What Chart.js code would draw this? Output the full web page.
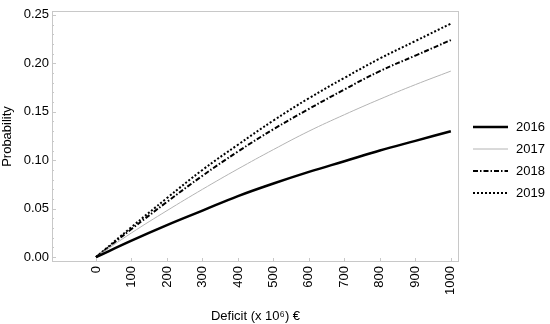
<!DOCTYPE html>
<html>
<head>
<meta charset="utf-8">
<script src="https://cdn.jsdelivr.net/npm/chart.js@4"></script>
<style>
  html, body { margin: 0; padding: 0; background: #fff; }
  #wrap { width: 550px; height: 324px; }
</style>
</head>
<body>
<div id="wrap"><canvas id="chart"></canvas></div>
<script>
var deficit = [0, 100, 200, 300, 400, 500, 600, 700, 800, 900, 1000];
var p2016 = [0, 0.017, 0.033, 0.048, 0.063, 0.076, 0.088, 0.099, 0.110, 0.120, 0.130];
var p2017 = [0, 0.025, 0.048, 0.070, 0.091, 0.111, 0.130, 0.147, 0.163, 0.178, 0.192];
var p2018 = [0, 0.029, 0.057, 0.084, 0.109, 0.132, 0.153, 0.173, 0.192, 0.208, 0.224];
var p2019 = [0, 0.031, 0.061, 0.090, 0.116, 0.141, 0.164, 0.185, 0.205, 0.223, 0.241];
var years = ["2016", "2017", "2018", "2019"];
var xTicks = [0, 100, 200, 300, 400, 500, 600, 700, 800, 900, 1000];
var yTicks = [0, 0.05, 0.10, 0.15, 0.20, 0.25];

var font = "'Liberation Sans', Arial, sans-serif";

function pts(ys) {
  return deficit.map(function (x, i) { return { x: x, y: ys[i] }; });
}

var styles = [
  { color: "#000000", width: 2.5, dash: [] },
  { color: "#b4b4b4", width: 1, dash: [] },
  { color: "#000000", width: 2, dash: [5, 2, 1.5, 2] },
  { color: "#000000", width: 2, dash: [2, 2] }
];
var series = [p2016, p2017, p2018, p2019];

var frameAndTicks = {
  id: "frameAndTicks",
  afterDatasetsDraw: function (chart) {
    var ctx = chart.ctx, a = chart.chartArea;
    var xs = chart.scales.x, ys = chart.scales.y;
    ctx.save();
    ctx.strokeStyle = "#c8c8c8";
    ctx.lineWidth = 1;
    ctx.strokeRect(a.left + 0.5, a.top + 0.5, a.right - a.left - 1, a.bottom - a.top - 1);
    ctx.beginPath();
    for (var v = 0; v <= 0.2501; v += 0.01) {
      var py = Math.round(ys.getPixelForValue(v)) + 0.5;
      var major = Math.abs(v / 0.05 - Math.round(v / 0.05)) < 1e-6;
      ctx.moveTo(a.left, py);
      ctx.lineTo(a.left + (major ? 4 : 2), py);
    }
    xTicks.forEach(function (t) {
      var px = Math.round(xs.getPixelForValue(t)) + 0.5;
      ctx.moveTo(px, a.bottom);
      ctx.lineTo(px, a.bottom - 4);
    });
    ctx.stroke();

    // legend
    ctx.font = "13px " + font;
    ctx.fillStyle = "#000";
    ctx.textBaseline = "middle";
    var ly = [127, 149, 171, 193];
    years.forEach(function (y, i) {
      var s = styles[i];
      ctx.strokeStyle = s.color;
      ctx.lineWidth = s.width;
      ctx.setLineDash(s.dash);
      ctx.beginPath();
      ctx.moveTo(473, ly[i]);
      ctx.lineTo(508, ly[i]);
      ctx.stroke();
      ctx.setLineDash([]);
      ctx.fillText(y, 516, ly[i]);
    });
    ctx.restore();
  }
};

new Chart(document.getElementById("chart"), {
  type: "line",
  data: {
    datasets: years.map(function (y, i) {
      return {
        label: y,
        data: pts(series[i]),
        borderColor: styles[i].color,
        borderWidth: styles[i].width,
        borderDash: styles[i].dash,
        pointRadius: 0,
        fill: false,
        tension: 0.4
      };
    })
  },
  options: {
    responsive: true,
    maintainAspectRatio: false,
    animation: false,
    layout: { padding: { top: 11, right: 91, left: 0, bottom: 0 } },
    plugins: { legend: { display: false }, tooltip: { enabled: false } },
    scales: {
      x: {
        type: "linear",
        min: -124,
        max: 1023,
        afterBuildTicks: function (scale) {
          scale.ticks = xTicks.map(function (v) { return { value: v }; });
        },
        afterFit: function (scale) { scale.height = 62; },
        grid: { display: false, drawTicks: false },
        border: { display: false },
        ticks: {
          minRotation: 90,
          maxRotation: 90,
          padding: 4,
          color: "#000",
          font: { family: font, size: 13 },
          callback: function (v) { return String(v); }
        },
        title: {
          display: true,
          text: "Deficit (x 10\u2076) \u20ac",
          color: "#000",
          font: { family: font, size: 13 },
          padding: { top: 6, bottom: 0 }
        }
      },
      y: {
        min: -0.005,
        max: 0.254,
        afterBuildTicks: function (scale) {
          scale.ticks = yTicks.map(function (v) { return { value: v }; });
        },
        afterFit: function (scale) { scale.width = 52; },
        grid: { display: false, drawTicks: false },
        border: { display: false },
        ticks: {
          padding: 3,
          color: "#000",
          font: { family: font, size: 13 },
          callback: function (v) { return v.toFixed(2); }
        },
        title: {
          display: true,
          text: "Probability",
          color: "#000",
          font: { family: font, size: 13 },
          padding: { top: 0, bottom: 0 }
        }
      }
    }
  },
  plugins: [frameAndTicks]
});
</script>
</body>
</html>
